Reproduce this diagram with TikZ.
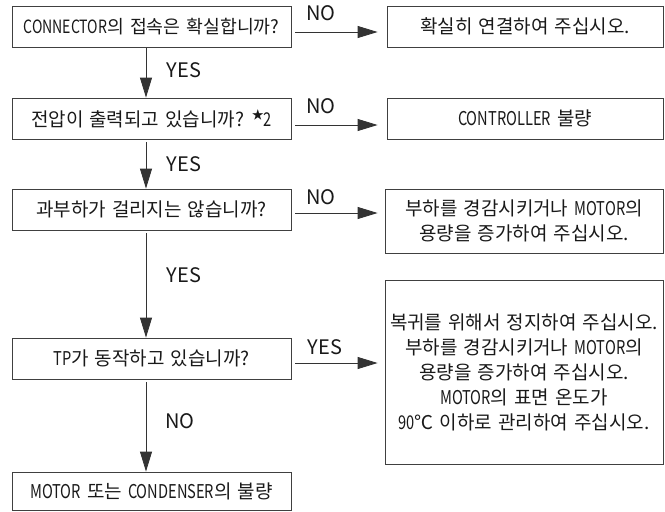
\documentclass[tikz,border=0pt]{standalone}
\usepackage{fontspec}
\setmainfont{Noto Sans CJK KR}
\newfontfamily\lat[FakeStretch=0.77]{Noto Sans CJK KR}
\newcommand\wideSpaces{\spaceskip=6pt plus 1pt minus 1pt\relax}
\usetikzlibrary{arrows.meta}
\begin{document}
\begin{tikzpicture}[x=1pt,y=-1pt,
  box/.style={draw=black!75, line width=0.8pt, inner sep=0pt, text=black!90,
              font=\fontsize{19}{25}\selectfont, align=center,
              execute at begin node=\wideSpaces},
  lbox/.style={box, minimum width=279pt, minimum height=41pt},
  arr/.style={draw=black!80, line width=0.8pt, -{Triangle[length=20pt,width=12pt]}},
  lab/.style={font=\fontsize{20}{20}\selectfont, text=black!90, inner sep=0pt}]
\useasboundingbox (0,0) rectangle (665,512);
% left column
\node[lbox, font=\fontsize{18.3}{25}\selectfont] (b1) at (151.5,26.5) {{\lat CONNECTOR}의 접속은 확실합니까?};
\node[lbox] (b2) at (151.5,118.5) {전압이 출력되고 있습니까? \raisebox{0.35em}{\fontsize{12}{12}\selectfont ★}{\lat 2}};
\node[lbox] (b3) at (151.5,209.5) {과부하가 걸리지는 않습니까?};
\node[lbox] (b4) at (151.5,358.5) {{\lat TP}가 동작하고 있습니까?};
\node[lbox, minimum height=38pt] (b5) at (151.5,491) {{\lat MOTOR} 또는 {\lat CONDENSER}의 불량};
% right column
\node[box, minimum width=276pt, minimum height=41pt] (r1) at (525,26.5) {확실히 연결하여 주십시오.};
\node[box, minimum width=276pt, minimum height=41pt] (r2) at (525,118.5) {{\lat CONTROLLER} 불량};
\node[box, minimum width=278pt, minimum height=64pt] (r3) at (524,221) {부하를 경감시키거나 {\lat MOTOR}의\\용량을 증가하여 주십시오.};
\node[box, minimum width=278pt, minimum height=184pt] (r4) at (524,372) {복귀를 위해서 정지하여 주십시오.\\부하를 경감시키거나 {\lat MOTOR}의\\용량을 증가하여 주십시오.\\{\lat MOTOR}의 표면 온도가\\{\lat 90}℃ 이하로 관리하여 주십시오.};
% vertical arrows
\draw[arr, shorten <=1pt] ([xshift=-5.5pt]b1.south) -- ([xshift=-5.5pt]b2.north);
\draw[arr, shorten <=3pt] ([xshift=-5.5pt]b2.south) -- ([xshift=-5.5pt]b3.north);
\draw[arr, shorten <=3pt] ([xshift=-5.5pt]b3.south) -- ([xshift=-5.5pt]b4.north);
\draw[arr, shorten <=3pt] ([xshift=-5.5pt]b4.south) -- ([xshift=-5.5pt]b5.north);
% horizontal arrows
\draw[arr, shorten <=4pt, shorten >=9pt] (b1.east |- 0,32) -- (r1.west |- 0,32);
\draw[arr, shorten <=4pt, shorten >=9pt] (b2.east |- 0,125) -- (r2.west |- 0,125);
\draw[arr, shorten <=4pt, shorten >=7pt] (b3.east |- 0,213) -- (r3.west |- 0,213);
\draw[arr, shorten <=4pt, shorten >=7pt] (b4.east |- 0,363) -- (r4.west |- 0,363);
% labels
\node[lab] (n1) at (321,13) {NO};
\node[lab] (n2) at (321,106) {NO};
\node[lab] (n3) at (321,197) {NO};
\node[lab] (y4) at (325,347) {YES};
\node[lab] (y1) at (184,70) {YES};
\node[lab] (y2) at (184,164) {YES};
\node[lab] (y3) at (184,275) {YES};
\node[lab] (n4) at (180,421) {NO};
\end{tikzpicture}
\end{document}
